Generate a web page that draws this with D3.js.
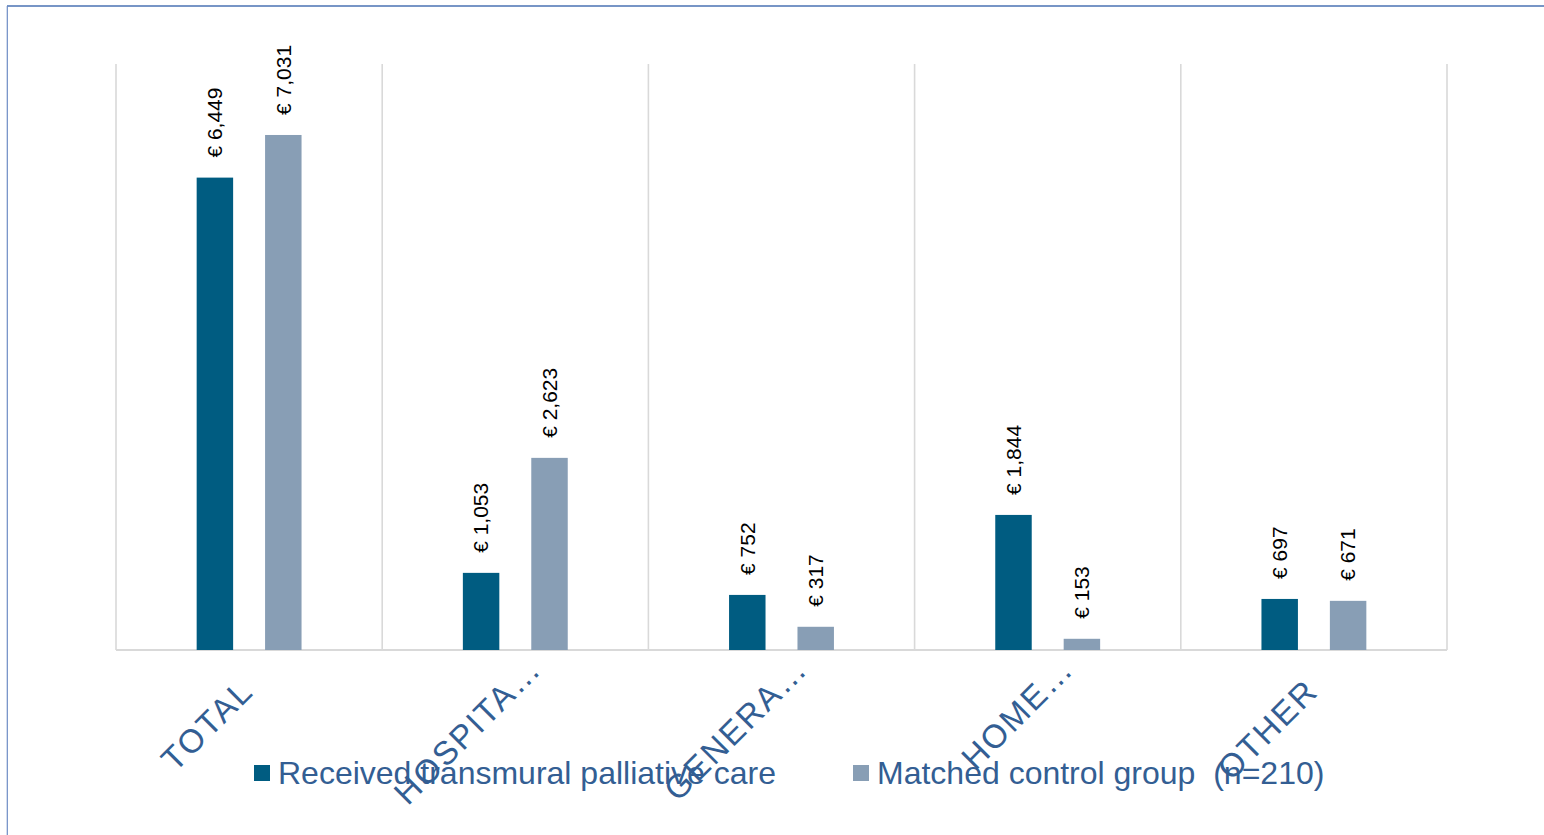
<!DOCTYPE html>
<html>
<head>
<meta charset="utf-8">
<script src="https://cdn.jsdelivr.net/npm/d3@7"></script>
<style>
  html, body { margin: 0; padding: 0; background: #ffffff; }
  svg { display: block; }
  text { font-family: "Liberation Sans", Arial, sans-serif; }
</style>
</head>
<body>
<svg id="chart" width="1544" height="835"></svg>
<script>
// Cost categories (long names are shortened with an ellipsis on the axis)
const categories = ["TOTAL", "HOSPITA…", "GENERA…", "HOME…", "OTHER"];
// Series names shown in the legend
const seriesNames = ["Received transmural palliative care", "Matched control group  (n=210)"];
// Mean costs per patient (euro)
const transmuralCosts = [6449, 1053, 752, 1844, 697];
const controlCosts = [7031, 2623, 317, 153, 671];
// Value axis extent
const yDomain = [0, 8000];

const seriesColors = ["#005c81", "#889eb5"];
const textBlue = "#335e93";

const svg = d3.select("#chart");
const W = 1544, H = 835;
const plot = { left: 116, right: 1447, top: 64, bottom: 650 };

// outer frame lines
svg.append("line")
  .attr("x1", 7).attr("x2", W).attr("y1", 6).attr("y2", 6)
  .attr("stroke", "#4a72b3").attr("stroke-width", 1.6);
svg.append("line")
  .attr("x1", 7.3).attr("x2", 7.3).attr("y1", 6).attr("y2", H)
  .attr("stroke", "#6d8cc4").attr("stroke-width", 1.2);

const x0 = d3.scaleBand().domain(categories).range([plot.left, plot.right]).padding(0);
const groupFrac = 0.394;
const x1 = d3.scaleBand().domain(d3.range(seriesNames.length))
  .range([x0.bandwidth() * (1 - groupFrac) / 2, x0.bandwidth() * (1 + groupFrac) / 2])
  .paddingInner(0.467).paddingOuter(0);
const y = d3.scaleLinear().domain(yDomain).range([plot.bottom, plot.top]);

// vertical category separators
const edges = categories.map(c => x0(c)).concat([plot.right]);
svg.append("g").selectAll("line").data(edges).join("line")
  .attr("x1", d => d).attr("x2", d => d)
  .attr("y1", y(yDomain[1])).attr("y2", y(0))
  .attr("stroke", "#d9d9d9").attr("stroke-width", 1.6);

// category axis line
svg.append("line")
  .attr("x1", plot.left).attr("x2", plot.right)
  .attr("y1", y(0)).attr("y2", y(0))
  .attr("stroke", "#d9d9d9").attr("stroke-width", 1.8);

const rows = categories.map((c, i) => ({
  category: c,
  values: [transmuralCosts[i], controlCosts[i]]
}));

const euro = v => "€ " + d3.format(",")(v);

const groups = svg.append("g").selectAll("g").data(rows).join("g")
  .attr("transform", d => `translate(${x0(d.category)},0)`);

groups.selectAll("rect")
  .data(d => d.values.map((v, s) => ({ v, s })))
  .join("rect")
  .attr("x", d => x1(d.s))
  .attr("width", x1.bandwidth())
  .attr("y", d => y(d.v))
  .attr("height", d => y(0) - y(d.v))
  .attr("fill", d => seriesColors[d.s]);

// value labels, written upward above each bar
groups.selectAll("text.val")
  .data(d => d.values.map((v, s) => ({ v, s })))
  .join("text")
  .attr("class", "val")
  .attr("transform", d => `translate(${x1(d.s) + x1.bandwidth() / 2},${y(d.v) - 20}) rotate(-90)`)
  .attr("dy", "0.35em")
  .attr("text-anchor", "start")
  .attr("font-size", 21)
  .attr("fill", "#000000")
  .text(d => euro(d.v));

// slanted category labels
const labelAngle = -45;
svg.append("g").selectAll("text").data(categories).join("text")
  .attr("transform", c => `translate(${x0(c) + x0.bandwidth() / 2 + 6},693) rotate(${labelAngle})`)
  .attr("text-anchor", "end")
  .attr("dx", c => c.endsWith("…") ? 31 : 0)
  .attr("font-size", 33)
  .attr("letter-spacing", 2)
  .attr("fill", textBlue)
  .text(c => c);

// legend
const legendX = [254, 853];
const legend = svg.append("g").selectAll("g").data(seriesNames).join("g")
  .attr("transform", (d, i) => `translate(${legendX[i]},765)`);
legend.append("rect")
  .attr("width", 16).attr("height", 16)
  .attr("fill", (d, i) => seriesColors[i]);
legend.append("text")
  .attr("x", 24).attr("y", 19)
  .attr("font-size", 32)
  .attr("fill", textBlue)
  .style("white-space", "pre")
  .text(d => d);
</script>
</body>
</html>
